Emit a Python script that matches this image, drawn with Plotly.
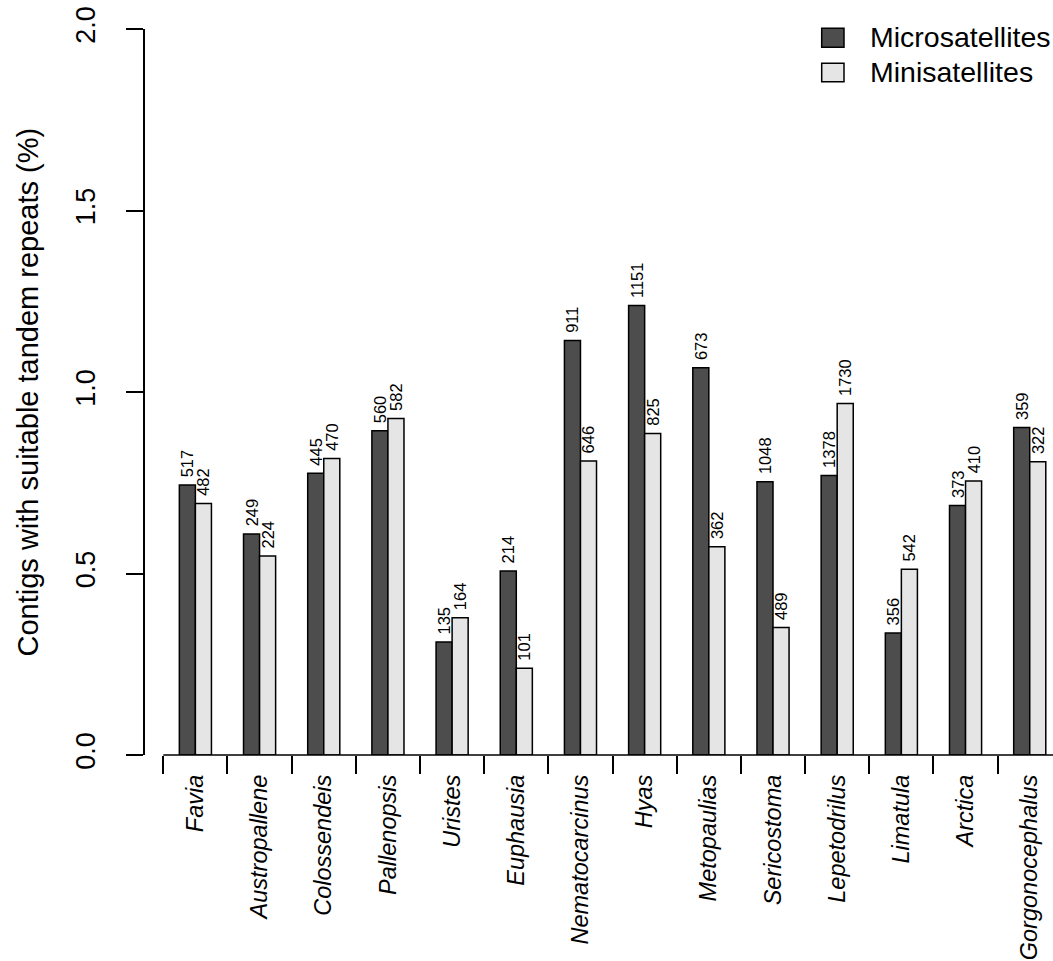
import plotly.graph_objects as go

# Genera (x categories)
genera = ["Favia", "Austropallene", "Colossendeis", "Pallenopsis", "Uristes",
          "Euphausia", "Nematocarcinus", "Hyas", "Metopaulias", "Sericostoma",
          "Lepetodrilus", "Limatula", "Arctica", "Gorgonocephalus"]

# Percentage of contigs with suitable tandem repeats
micro_pct = [0.744, 0.609, 0.776, 0.893, 0.311, 0.507, 1.142,
             1.238, 1.067, 0.753, 0.770, 0.336, 0.687, 0.902]
mini_pct = [0.693, 0.548, 0.817, 0.927, 0.378, 0.239, 0.810,
            0.886, 0.574, 0.351, 0.968, 0.512, 0.755, 0.808]

# Number of contigs (printed above each bar)
micro_n = [517, 249, 445, 560, 135, 214, 911, 1151, 673, 1048, 1378, 356, 373, 359]
mini_n = [482, 224, 470, 582, 164, 101, 646, 825, 362, 489, 1730, 542, 410, 322]

y_ticks = [0.0, 0.5, 1.0, 1.5, 2.0]
y_ticktext = ["0.0", "0.5", "1.0", "1.5", "2.0"]

FONT = "Liberation Sans, Arial, Helvetica, sans-serif"
DARK = "#4d4d4d"
LIGHT = "#e5e5e5"

W, H = 1053, 961
L, R, T, B = 145, 0, 29, 206
PW, PH = W - L - R, H - T - B


def px(xp):
    return (xp - L) / PW


def py(yp):
    return (H - B - yp) / PH


def count_labels(values):
    # a leading no-break space lifts the rotated count a little off the bar
    return ["\u00a0" + str(v) for v in values]


fig = go.Figure()
fig.add_trace(go.Bar(
    x=genera, y=micro_pct, name="Microsatellites",
    marker=dict(color=DARK, line=dict(color="black", width=1.5)),
    text=count_labels(micro_n), textposition="outside", textangle=-90,
    textfont=dict(size=16.5, color="black", family=FONT),
    constraintext="none", cliponaxis=False, showlegend=False,
))
fig.add_trace(go.Bar(
    x=genera, y=mini_pct, name="Minisatellites",
    marker=dict(color=LIGHT, line=dict(color="black", width=1.5)),
    text=count_labels(mini_n), textposition="outside", textangle=-90,
    textfont=dict(size=16.5, color="black", family=FONT),
    constraintext="none", cliponaxis=False, showlegend=False,
))

n = len(genera)
shapes = [
    # x-axis baseline spanning the group boundaries
    dict(type="line", xref="x", yref="paper", x0=-0.5, x1=n - 0.5, y0=0, y1=0,
         line=dict(color="black", width=1.5)),
]

# Manual legend
legend_items = [("Microsatellites", DARK, 28.3, 47.3, 37.5),
                ("Minisatellites", LIGHT, 63.3, 81.7, 72.0)]
annotations = []
for label, col, top, bot, mid in legend_items:
    shapes.append(dict(type="rect", xref="paper", yref="paper",
                       x0=px(821.7), x1=px(844), y0=py(bot), y1=py(top),
                       fillcolor=col, line=dict(color="black", width=1.5)))
    annotations.append(dict(xref="paper", yref="paper", x=px(868), y=py(mid),
                            xanchor="left", yanchor="middle", showarrow=False,
                            text=label, font=dict(size=28.5, color="black", family=FONT)))

annotations.append(dict(
    xref="paper", yref="paper", x=px(27.5), y=0.5, xanchor="center", yanchor="middle",
    showarrow=False, textangle=-90, text="Contigs with suitable tandem repeats (%)",
    font=dict(size=29, color="black", family=FONT)))

pitch = 64.18
c0 = 163.3 + pitch / 2
fig.update_layout(
    width=W, height=H,
    margin=dict(l=L, r=R, t=T, b=B, pad=0),
    paper_bgcolor="white", plot_bgcolor="white",
    barmode="group", bargap=0.5, bargroupgap=0,
    font=dict(family=FONT, color="black"),
    shapes=shapes, annotations=annotations,
    xaxis=dict(
        type="category",
        range=[(L - c0) / pitch, (W - R - c0) / pitch],
        tickmode="array", tickvals=genera,
        ticktext=["<i>%s</i>" % g for g in genera],
        tickson="boundaries", ticks="outside", ticklen=18, tickwidth=1.5,
        tickcolor="black", tickangle=-90, ticklabelstandoff=14,
        tickfont=dict(size=23.5, color="black", family=FONT),
        showline=False, showgrid=False, zeroline=False,
    ),
    yaxis=dict(
        range=[0, 2.0], tickmode="array", tickvals=y_ticks, ticktext=y_ticktext,
        ticks="outside", ticklen=17, tickwidth=1.5, tickcolor="black",
        tickangle=-90, ticklabelstandoff=20,
        tickfont=dict(size=27, color="black", family=FONT),
        showline=True, linecolor="black", linewidth=1.5,
        showgrid=False, zeroline=False,
    ),
)

fig.write_html("out.html")
